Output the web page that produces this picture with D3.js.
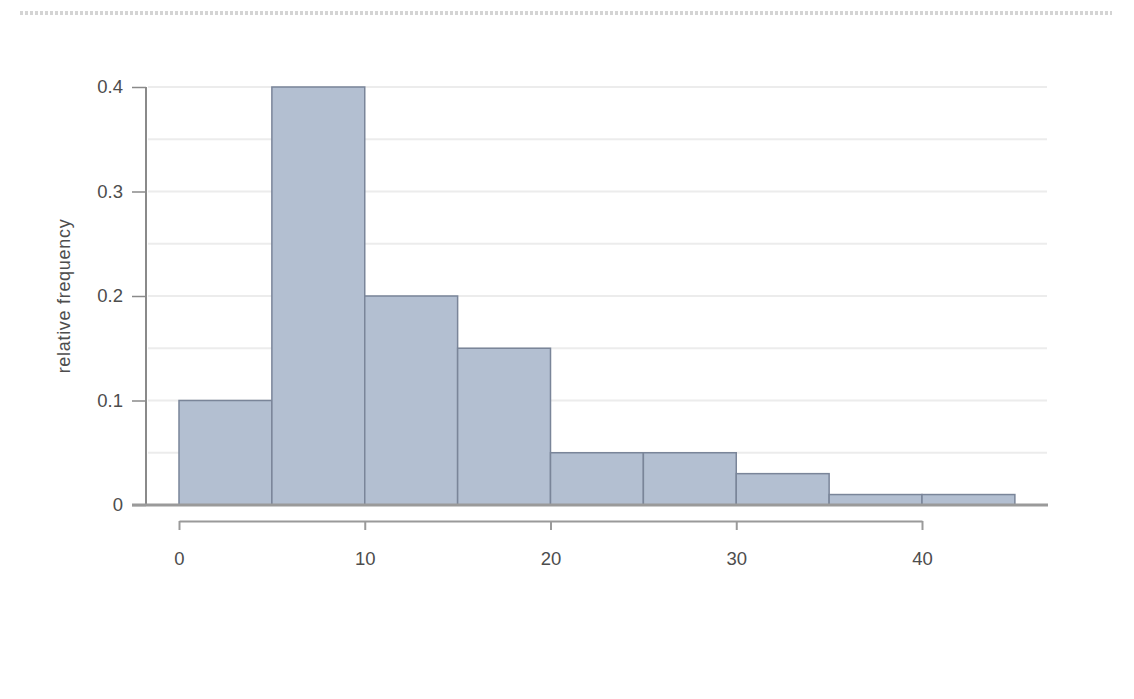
<!DOCTYPE html>
<html><head><meta charset="utf-8">
<script src="https://cdn.jsdelivr.net/npm/d3@7"></script>
<style>body{margin:0;background:#fff;}svg{display:block;font-family:"Liberation Sans",Arial,sans-serif;}</style>
</head><body>
<svg id="c" width="1134" height="699"></svg>
<script>
const binStarts = [0, 5, 10, 15, 20, 25, 30, 35, 40];
const binWidth = 5;
const relFreq = [0.10, 0.40, 0.20, 0.15, 0.05, 0.05, 0.03, 0.01, 0.01];
const yTicks = [0, 0.1, 0.2, 0.3, 0.4];
const yTickLabels = ["0", "0.1", "0.2", "0.3", "0.4"];
const gridVals = [0.05, 0.1, 0.15, 0.2, 0.25, 0.3, 0.35, 0.4];
const xTicks = [0, 10, 20, 30, 40];
const yLabel = "relative frequency";

const svg = d3.select("#c");
const x = d3.scaleLinear().domain([0, 40]).range([179, 922]);
const y = d3.scaleLinear().domain([0, 0.4]).range([505, 87]);

// faint top strip
svg.append("line").attr("x1", 20).attr("x2", 1112).attr("y1", 13).attr("y2", 13)
  .attr("stroke", "#d4d4d4").attr("stroke-width", 4).attr("stroke-dasharray", "3,2");

// gridlines
svg.append("g").selectAll("line").data(gridVals).join("line")
  .attr("x1", 148).attr("x2", 1047)
  .attr("y1", d => y(d)).attr("y2", d => y(d))
  .attr("stroke", "#ececec").attr("stroke-width", 2);

// bars
svg.append("g").selectAll("rect").data(binStarts).join("rect")
  .attr("x", d => x(d))
  .attr("width", d => x(d + binWidth) - x(d))
  .attr("y", (d, i) => y(relFreq[i]))
  .attr("height", (d, i) => y(0) - y(relFreq[i]))
  .attr("fill", "#b3bfd1")
  .attr("stroke", "#7a8599").attr("stroke-width", 1.5);

// y axis
const yAxis = d3.axisLeft(y).tickValues(yTicks).tickFormat((d, i) => yTickLabels[i]).tickSize(14).tickPadding(9);
const gy = svg.append("g").attr("transform", "translate(146,0)").call(yAxis);
gy.attr("font-family", null).attr("font-size", null);
gy.select(".domain").attr("stroke", "#8a8a8a").attr("stroke-width", 2).attr("d", `M0,${y(0.4)}V${y(0)}`);
gy.selectAll(".tick line").attr("stroke", "#8a8a8a").attr("stroke-width", 1.5);
gy.selectAll(".tick text").attr("fill", "#4d4d4d").style("font-size", "18.5px");

// baseline
svg.append("line").attr("x1", 132).attr("x2", 1048).attr("y1", y(0)).attr("y2", y(0))
  .attr("stroke", "#9a9a9a").attr("stroke-width", 3);

// x axis
const xAxis = d3.axisBottom(x).tickValues(xTicks).tickSize(9).tickPadding(22).tickSizeOuter(0);
const gx = svg.append("g").attr("transform", "translate(0,521)").call(xAxis);
gx.attr("font-family", null).attr("font-size", null);
gx.select(".domain").attr("stroke", "#9a9a9a").attr("stroke-width", 2);
gx.selectAll(".tick line").attr("stroke", "#9a9a9a").attr("stroke-width", 2);
gx.selectAll(".tick text").attr("fill", "#4d4d4d").style("font-size", "18.5px");

// y label
svg.append("text").attr("transform", "translate(70,296) rotate(-90)")
  .attr("text-anchor", "middle").style("font-size", "18px").style("letter-spacing", "0.7px")
  .attr("fill", "#4d4d4d").text(yLabel);
</script>
</body></html>
